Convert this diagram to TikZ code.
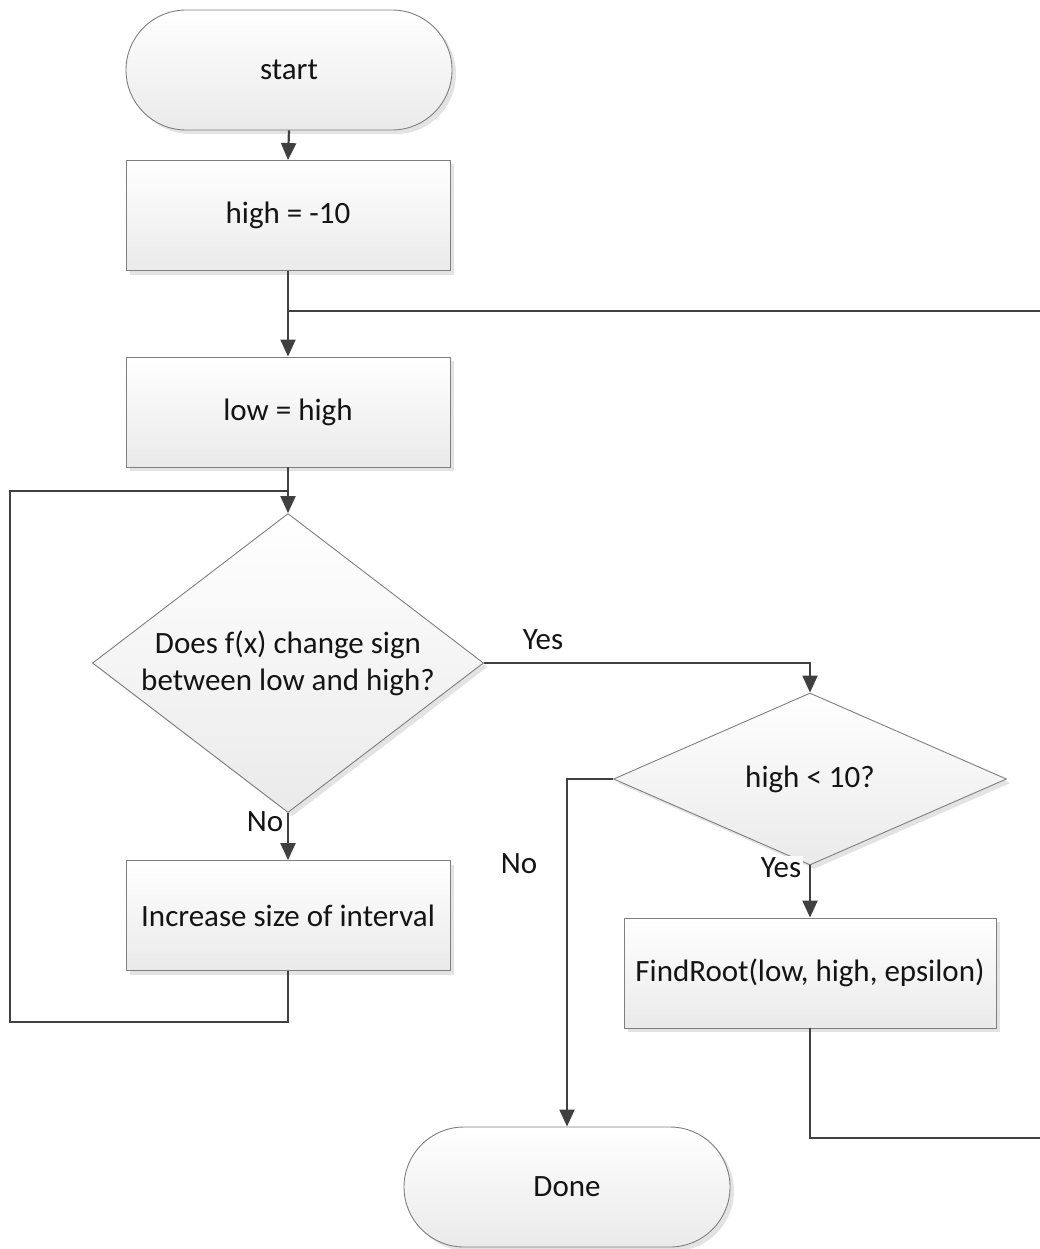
\documentclass[tikz,border=0pt]{standalone}
\usepackage{fontspec}
\setmainfont{Carlito}
\usetikzlibrary{shapes.geometric,shapes.misc,shadows,arrows.meta}
\definecolor{linec}{HTML}{404040}
\definecolor{edgec}{HTML}{7F7F7F}
\definecolor{fillb}{HTML}{EAEAEA}
\begin{document}
\begin{tikzpicture}[x=1pt,y=-1pt,
  every node/.style={font=\fontsize{31}{37}\selectfont, text=black!92},
  shapebase/.style={draw=edgec, line width=0.9pt, shading=axis, top color=white, bottom color=fillb,
    drop shadow={shadow xshift=4pt, shadow yshift=-4pt, fill=black, opacity=0.11}},
  terminal/.style={shapebase, rounded rectangle, minimum width=326pt, minimum height=120pt, inner sep=0pt},
  procbox/.style={shapebase, rectangle, minimum width=324pt, minimum height=110pt, inner sep=0pt},
  decision/.style={shapebase, diamond, inner sep=0pt, align=center},
  conn/.style={draw=linec, line width=2.2pt},
  arr/.style={conn, -{Triangle[width=15pt,length=17pt]}},
  lbl/.style={fill=white, inner sep=1.5pt}
]
\useasboundingbox (0,0) rectangle (1040,1249);

% nodes
\node[terminal] (start) at (289,70) {start};
\node[procbox] (high1) at (288,215.5) {high = -10};
\node[procbox] (low) at (288,412) {low = high};
\node[decision, aspect=1.308, minimum width=391pt, minimum height=299pt] (d1) at (288,663) {Does f(x) change sign\\between low and high?};
\node[procbox] (inc) at (288,915.5) {Increase size of interval};
\node[decision, aspect=2.28, minimum width=393pt, minimum height=172pt] (d2) at (810,779) {high < 10?};
\node[procbox, minimum width=372pt] (find) at (810,973) {FindRoot(low, high, epsilon)};
\node[terminal] (done) at (567,1187) {Done};

% junction / bend coordinates
\coordinate (j1) at (288,311);
\coordinate (j2) at (288,491);
\coordinate (r1) at (810,1138);
\coordinate (r2) at (1043,1138);
\coordinate (r3) at (1043,311);
\coordinate (l1) at (288,1022);
\coordinate (l2) at (10,1022);
\coordinate (l3) at (10,491);

% connectors
\draw[arr] (start.south) -- (high1.north);
\draw[arr] (high1.south) -- (low.north);
\draw[arr] (low.south) -- (d1.north);
\draw[arr] (d1.south) -- (inc.north);
\draw[conn] (inc.south) -- (l1) -- (l2) -- (l3) -- (j2);
\draw[arr] (d1.east) -| (d2.north);
\draw[arr] (d2.south) -- (find.north);
\draw[arr] (d2.west) -| (done.north);
\draw[conn] (find.south) -- (r1) -- (r2) -- (r3) -- (j1);

% labels
\node[lbl] (lno1) at (265,822) {No};
\node[lbl] (lyes1) at (543,640) {Yes};
\node[lbl] (lyes2) at (781,868) {Yes};
\node[lbl] (lno2) at (519,864) {No};
\end{tikzpicture}
\end{document}
